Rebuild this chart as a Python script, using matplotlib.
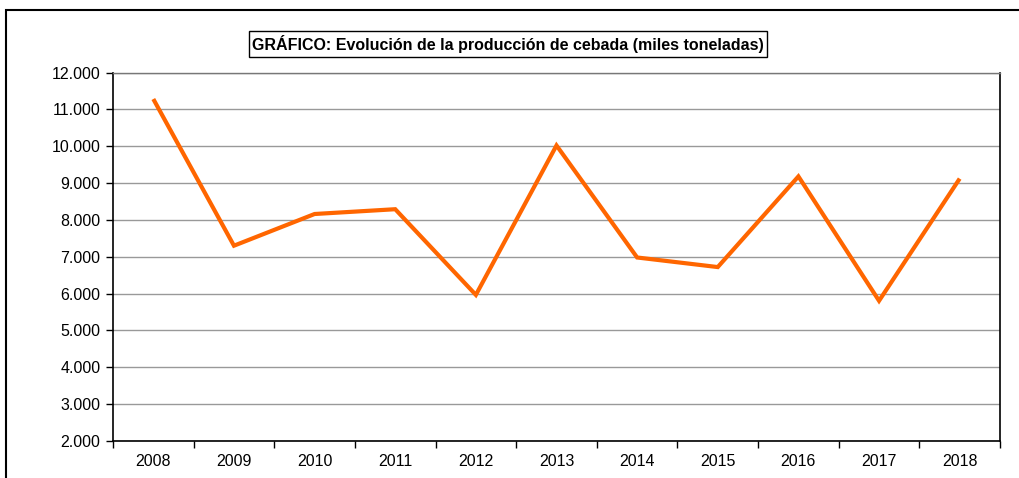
# ===================
# Part 1: Importing Libraries
# ===================
import numpy as np
import matplotlib.pyplot as plt
from matplotlib.patches import Rectangle
from matplotlib.ticker import FuncFormatter


# ===================
# Part 2: Data Preparation
# ===================
years = ["2008", "2009", "2010", "2011", "2012", "2013",
         "2014", "2015", "2016", "2017", "2018"]
produccion = [11280, 7300, 8160, 8290, 5965, 10020,
              6980, 6720, 9180, 5805, 9120]
y_ticks = [2000, 3000, 4000, 5000, 6000, 7000, 8000, 9000, 10000, 11000, 12000]
title = "GRÁFICO: Evolución de la producción de cebada (miles toneladas)"

# ===================
# Part 3: Plot Configuration and Rendering
# ===================
plt.rcParams['font.family'] = ['Liberation Sans', 'DejaVu Sans']

fig = plt.figure(figsize=(10.2, 4.78), dpi=100)
ax = fig.add_axes([113 / 1020, 1 - 441 / 478, 887 / 1020, 368.5 / 478])

x = np.arange(len(years))
ax.plot(x, produccion, color="#FF6600", lw=3, solid_joinstyle="miter",
        solid_capstyle="butt", zorder=3)

# Axes limits and ticks
ax.set_xlim(-0.5, len(years) - 0.5)
ax.set_ylim(2000, 12000)
ax.set_yticks(y_ticks)
ax.yaxis.set_major_formatter(FuncFormatter(lambda v, p: f"{int(v):,}".replace(",", ".")))

ax.set_xticks(np.arange(-0.5, len(years)), labels=[])
ax.set_xticks(x, labels=years, minor=True)
ax.tick_params(axis="x", which="major", direction="out", length=5, width=1)
ax.tick_params(axis="x", which="minor", length=0, pad=9, labelsize=11.5)
ax.tick_params(axis="y", direction="out", length=5, width=1, pad=4, labelsize=11.5)

# Grid and spines
ax.grid(True, axis="y", color="#999999", lw=1)
ax.set_axisbelow(True)
for side in ["left", "right", "bottom"]:
    ax.spines[side].set_color("black")
    ax.spines[side].set_linewidth(1.2)
ax.spines["top"].set_color("#777777")
ax.spines["top"].set_linewidth(1)

# Title in a box
fig.text(508 / 1020, 1 - 44 / 478, title, ha="center", va="center",
         fontsize=11.5, fontweight="bold",
         bbox=dict(facecolor="white", edgecolor="black", lw=1, pad=2.5))

# Outer chart border
fig.patches.append(Rectangle((6 / 1020, -0.1), 1.2, 1.1 - 10 / 478,
                             transform=fig.transFigure, fill=False,
                             edgecolor="black", lw=1.5))

# ===================
# Part 4: Saving Output
# ===================
plt.savefig("out.png", dpi=100)
